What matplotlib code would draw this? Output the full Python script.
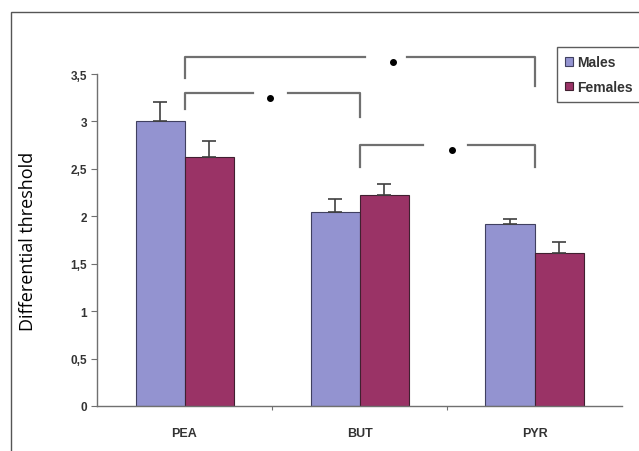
import matplotlib.pyplot as plt
import numpy as np
from matplotlib.patches import Rectangle

categories = ["PEA", "BUT", "PYR"]
males = [3.0, 2.04, 1.92]
males_err = [0.21, 0.14, 0.05]
females = [2.62, 2.22, 1.61]
females_err = [0.17, 0.12, 0.12]

# significance brackets:
# (left group, right group, height, left drop, right drop, gap start, gap end, star x)
brackets = [
    (0, 2, 3.68, 3.46, 3.37, 1.03, 1.27, 1.19),
    (0, 1, 3.30, 3.13, 3.05, 0.39, 0.59, 0.49),
    (1, 2, 2.75, 2.52, 2.52, 1.36, 1.62, 1.53),
]

plt.rcParams['font.family'] = ['Liberation Sans', 'DejaVu Sans']

fig = plt.figure(figsize=(6.39, 4.52), dpi=100)
ax = fig.add_axes([97 / 639, 1 - 407 / 452, 525 / 639, 332 / 452])

x = np.arange(len(categories))
w = 0.28
ax.bar(x - w / 2, males, w, color='#9393d0', edgecolor='#404060', linewidth=0.8,
       yerr=[np.zeros(3), males_err], capsize=5,
       error_kw=dict(ecolor='#404040', elinewidth=1.2, capthick=1.2), label='Males')
ax.bar(x + w / 2, females, w, color='#9a3366', edgecolor='#402030', linewidth=0.8,
       yerr=[np.zeros(3), females_err], capsize=5,
       error_kw=dict(ecolor='#404040', elinewidth=1.2, capthick=1.2), label='Females')

for a, b, h, dl, dr, g0, g1, sx in brackets:
    ax.plot([a, a, g0], [dl, h, h], color='#707070', lw=1.6, clip_on=False)
    ax.plot([g1, b, b], [h, h, dr], color='#707070', lw=1.6, clip_on=False)
    ax.plot([sx], [h - 0.05], 'o', color='black', ms=4, clip_on=False)

ax.set_xlim(-0.5, 2.5)
ax.set_ylim(0, 3.5)
ax.set_yticks(np.arange(0, 3.51, 0.5))
ax.set_yticklabels(['0', '0,5', '1', '1,5', '2', '2,5', '3', '3,5'],
                   fontsize=8.5, fontweight='bold', color='#333333')
ax.set_xticks([0.5, 1.5])
ax.set_xticklabels(['', ''])
ax.tick_params(axis='x', length=3, color='#707070')
ax.tick_params(axis='y', length=4, color='#707070', pad=3)
for i, c in enumerate(categories):
    ax.text(i, -0.22, c, ha='center', va='top', fontsize=9, fontweight='bold',
            color='#333333')
for s in ['top', 'right']:
    ax.spines[s].set_visible(False)
for s in ['left', 'bottom']:
    ax.spines[s].set_color('#707070')
    ax.spines[s].set_linewidth(1.0)

ax.set_ylabel('Differential threshold', fontsize=13, labelpad=24,
              family=['Open Sans', 'DejaVu Sans'])

leg = fig.legend(loc='upper left', bbox_to_anchor=(557 / 639, 1 - 48 / 452),
                 fontsize=10, frameon=True, fancybox=False, handlelength=0.55,
                 handleheight=0.55, handletextpad=0.3, borderpad=0.6,
                 labelspacing=0.75, edgecolor='#333333', borderaxespad=0)
for t in leg.get_texts():
    t.set_fontweight('bold')
    t.set_color('#333333')
leg.get_frame().set_linewidth(1.0)

fig.patches.append(Rectangle((11 / 639, -0.1), 1.2, 1 - 13 / 452 + 0.1,
                             transform=fig.transFigure, fill=False,
                             edgecolor='#555555', lw=1.0))

fig.savefig('out.png', dpi=100)
